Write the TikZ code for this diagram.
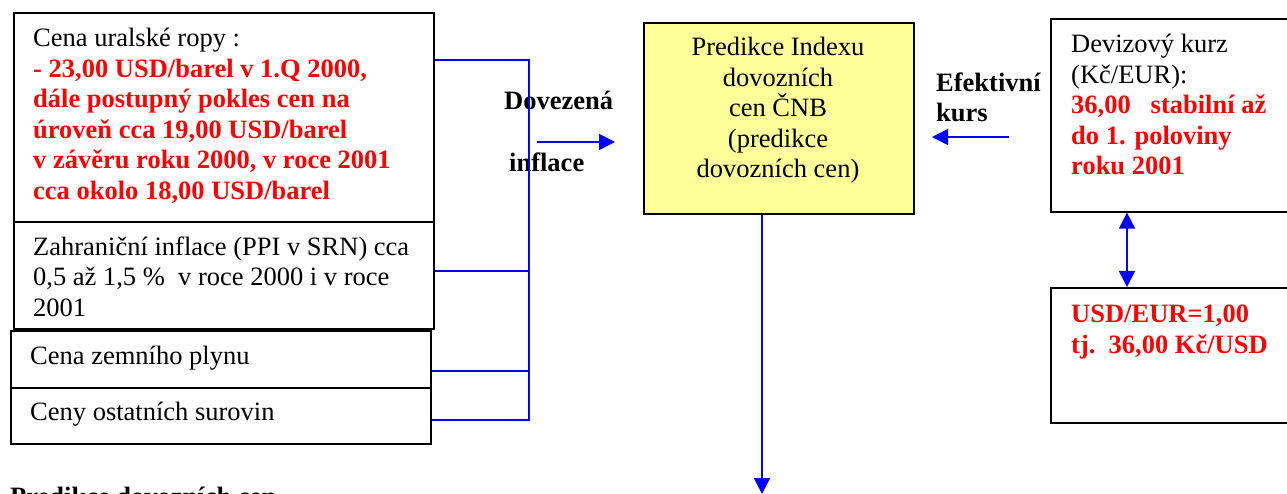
\documentclass[tikz,border=0pt]{standalone}
\usepackage{fontspec}
\setmainfont{Liberation Serif}
\usetikzlibrary{positioning,arrows.meta}

\definecolor{predyellow}{RGB}{255,255,153}
\definecolor{linkblue}{RGB}{0,0,255}

\newcommand\bodyfont{\fontsize{26.5}{30.5}\selectfont}
\newcommand\hot[1]{\textcolor{red}{\bfseries #1}}

\tikzset{
  frame/.style={draw, line width=1.6pt, inner sep=0pt, anchor=north west},
  % base anchor sits on the last line
  txt/.style={inner sep=0pt, anchor=base west, align=left, font=\bodyfont},
  link/.style={draw=linkblue, line width=1.6pt},
  arr/.style={link, -{Triangle[length=16pt,width=16pt]}},
  dbl/.style={link, {Triangle[length=16pt,width=16pt]}-{Triangle[length=16pt,width=16pt]}}
}

\begin{document}
\begin{tikzpicture}[x=1pt,y=-1pt]
\clip (0,0) rectangle (1287,494);

% input boxes on the left
\node[frame, minimum width=420pt, minimum height=209pt] (ural) at (13,12) {};
\node[frame, minimum width=420pt, minimum height=107pt] (zahr) at (13,221) {};
\node[frame, minimum width=420pt, minimum height=57pt] (plyn) at (10,330) {};
\node[frame, minimum width=420pt, minimum height=56pt] (ostatni) at (10,387) {};

\node[txt] (uraltxt) at (33,199.5) {Cena uralské ropy :\\
  \hot{- 23,00 USD/barel v 1.Q 2000,}\\
  \hot{dále postupný pokles cen na}\\
  \hot{úroveň cca 19,00 USD/barel}\\
  \hot{v závěru roku 2000, v roce 2001}\\
  \hot{cca okolo 18,00 USD/barel}};
\node[txt] (zahrtxt) at (33,316) {Zahraniční inflace (PPI v SRN) cca\\
  0,5 až 1,5 \%~~v roce 2000 i v roce\\
  2001};
\node[txt] (plyntxt) at (30,364) {Cena zemního plynu};
\node[txt] (ostatnitxt) at (30,420) {Ceny ostatních surovin};

% prediction box
\node[frame, fill=predyellow, minimum width=270pt, minimum height=191pt] (pred) at (643,22) {};
\node[txt, anchor=base, align=center] (predtxt) at (778,178) {Predikce Indexu\\
  dovozních\\ cen ČNB\\ (predikce\\ dovozních cen)};

% exchange rate boxes
\node[frame, minimum width=260pt, minimum height=193pt] (kurz) at (1050,18) {};
\node[frame, minimum width=260pt, minimum height=135pt] (usd) at (1050,287) {};
\node[txt] (kurztxt) at (1071,175) {Devizový kurz\\ (Kč/EUR):\\
  \hot{36,00~~~stabilní až}\\ \hot{do 1. poloviny}\\ \hot{roku 2001}};
\node[txt] (usdtxt) at (1071,353) {\hot{USD/EUR=1,00}\\ \hot{tj.~~36,00 Kč/USD}};

% arrow labels
\node[txt, font=\bodyfont\bfseries] (dov) at (504,110) {Dovezená};
\node[txt, font=\bodyfont\bfseries] (infl) at (509,172) {inflace};
\node[txt, font=\bodyfont\bfseries] (efk) at (936,122) {Efektivní\\ kurs};
\node[txt, font=\bodyfont\bfseries] (title) at (10,505) {Predikce dovozních cen};

% collecting line
\coordinate (b1) at (529,60);
\coordinate (b2) at (529,271);
\coordinate (b3) at (529,371);
\coordinate (b4) at (529,420);
\draw[link] (ural.east |- b1) -- (b1) -- (b4) -- (ostatni.east |- b4);
\draw[link] (zahr.east |- b2) -- (b2);
\draw[link] (plyn.east |- b3) -- (b3);

% arrows
\coordinate (dovstart) at (537,142);
\coordinate (dovtip) at (615,142);
\draw[arr] (dovstart) -- (dovtip);
\coordinate (efstart) at (1009,137);
\coordinate (eftip) at (932,137);
\draw[arr] (efstart) -- (eftip);
\coordinate (dblx) at (1127,0);
\draw[dbl] (kurz.south -| dblx) -- (usd.north -| dblx);
\coordinate (out) at (762,494);
\draw[arr] (pred.south -| out) -- (out);
\end{tikzpicture}
\end{document}
